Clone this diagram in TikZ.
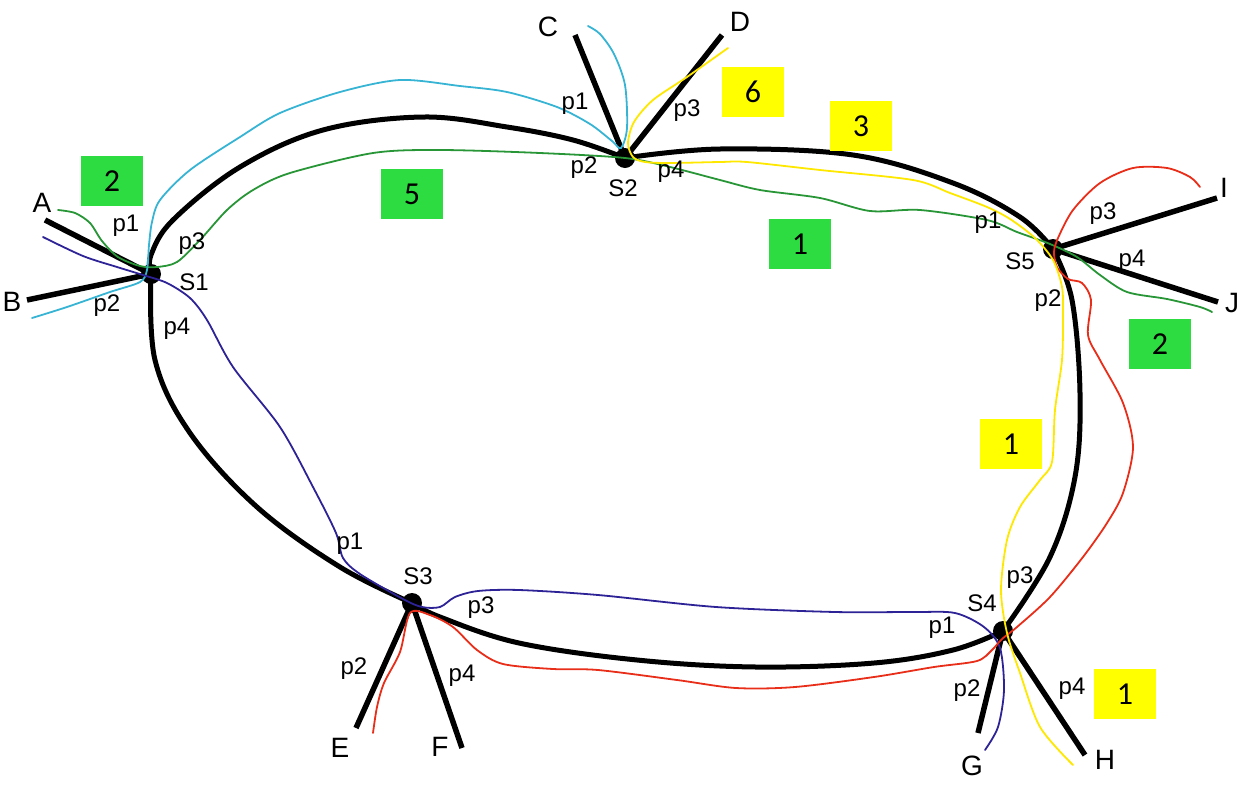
\documentclass[tikz,border=0pt]{standalone}
\usepackage{fontspec}
\setmainfont{Liberation Sans}
\newfontfamily\boxfont{Carlito}
\usepackage{tikz}
\usetikzlibrary{positioning}
\usepackage{xcolor}
\definecolor{flowgreen}{RGB}{40,150,55}
\definecolor{flowcyan}{RGB}{55,180,212}
\definecolor{flowblue}{RGB}{45,35,150}
\definecolor{flowred}{RGB}{232,45,25}
\definecolor{flowyellow}{RGB}{255,232,0}
\definecolor{boxgreen}{RGB}{45,220,65}
\definecolor{boxyellow}{RGB}{255,255,0}

\begin{document}
\begin{tikzpicture}[x=1pt, y=-1pt,
    ring/.style={line width=5pt, line cap=round},
    link/.style={line width=5.5pt},
    flow/.style={line width=1.8pt, line cap=round},
    sw/.style={circle, fill=black, minimum size=20pt, inner sep=0pt},
    port/.style={font=\fontsize{24}{26}\selectfont, inner sep=0pt},
    hostlbl/.style={font=\fontsize{28}{30}\selectfont, inner sep=0pt},
    gbox/.style={fill=boxgreen, minimum width=62pt, minimum height=50pt, font=\boxfont\fontsize{32}{34}\selectfont},
    ybox/.style={fill=boxyellow, minimum width=62pt, minimum height=50pt, font=\boxfont\fontsize{32}{34}\selectfont}
    ]

    \useasboundingbox (0,0) rectangle (1243,788);

    \node[sw] (S1) at (151,274) {};
    \node[sw] (S2) at (625,158) {};
    \node[sw] (S3) at (412,603) {};
    \node[sw] (S4) at (1003,631) {};
    \node[sw] (S5) at (1053,249) {};

    \coordinate (A) at (45,220);
    \coordinate (B) at (27,300);
    \coordinate (C) at (575,35);
    \coordinate (D) at (722,35);
    \coordinate (E) at (356,728);
    \coordinate (F) at (462,748);
    \coordinate (G) at (978,733);
    \coordinate (H) at (1085,755);
    \coordinate (I) at (1217,198);
    \coordinate (J) at (1218,302);

    \draw[ring] plot[smooth, tension=0.6] coordinates {(S1.center) (151,255) (173,220) (240,167) (323,130) (423,117) (507,127) (573,140) (S2.center)};
    \draw[ring] plot[smooth, tension=0.6] coordinates {(S2.center) (720,149) (853,155) (953,183) (1020,217) (S5.center)};
    \draw[ring] plot[smooth, tension=0.6] coordinates {(S5.center) (1072,300) (1080,393) (1075,477) (1050,557) (S4.center)};
    \draw[ring] plot[smooth, tension=0.6] coordinates {(S4.center) (953,650) (874,663) (756,667) (637,660) (519,643) (440,617) (S3.center)};
    \draw[ring] plot[smooth, tension=0.6] coordinates {(S3.center) (340,567) (257,507) (190,433) (155,360) (S1.center)};

    \draw[link] (S1.center) -- (A);
    \draw[link] (S1.center) -- (B);
    \draw[link] (S2.center) -- (C);
    \draw[link] (S2.center) -- (D);
    \draw[link] (S3.center) -- (E);
    \draw[link] (S3.center) -- (F);
    \draw[link] (S4.center) -- (G);
    \draw[link] (S4.center) -- (H);
    \draw[link] (S5.center) -- (I);
    \draw[link] (S5.center) -- (J);

    \draw[flow, flowgreen] plot[smooth, tension=0.5] coordinates {(58,210) (75,213) (90,223) (102,241) (118,257) (140,266) (157,267) (177,262) (200,240) (227,210) (253,190) (290,173) (373,153) (440,150) (540,153) (S2.center) (670,167) (720,180) (760,190) (820,198) (870,211) (920,210) (987,220) (1017,232) (1050,244) (1077,257) (1100,275) (1127,292) (1167,299) (1200,307) (1212,312)};

    \draw[flow, flowcyan] plot[smooth, tension=0.5] coordinates {(32,318) (67,307) (110,292) (140,282) (147,270) (149,245) (152,222) (160,200) (190,170) (240,137) (280,113) (340,92) (400,80) (460,86) (507,92) (557,107) (590,124) (612,141) (621,148) (627,128) (625,85) (614,54) (600,34) (588,26)};

    \draw[flow, flowblue] plot[smooth, tension=0.5] coordinates {(43,237) (83,256) (117,267) (143,275) (167,283) (190,298) (207,320) (233,367) (280,427) (313,487) (336,533) (343,558) (360,574) (403,599) (422,607) (440,607) (455,597) (478,591) (519,590) (598,595) (716,607) (835,612) (914,612) (955,613) (984,627) (1000,648) (1004,690) (998,727) (985,750)};

    \draw[flow, flowred] plot[smooth, tension=0.5] coordinates {(373,733) (377,707) (384,683) (400,652) (410,613) (430,615) (453,627) (477,650) (503,664) (553,669) (598,670) (677,680) (736,688) (795,687) (874,677) (934,667) (977,661) (992,650) (1002,639) (1017,627) (1050,597) (1083,557) (1107,523) (1123,493) (1133,447) (1123,403) (1100,360) (1088,335) (1091,300) (1082,283) (1068,279) (1057,267) (1054,252) (1058,238) (1073,210) (1100,183) (1133,168) (1167,168) (1190,177) (1200,187)};

    \draw[flow, flowyellow] plot[smooth, tension=0.5] coordinates {(728,48) (687,77) (653,100) (634,122) (628,143) (633,157) (645,162) (670,163) (720,162) (747,162) (820,170) (913,180) (950,193) (987,207) (1010,219) (1035,238) (1053,260) (1062,287) (1063,315) (1062,360) (1055,410) (1052,462) (1040,480) (1020,507) (1007,540) (1001,590) (1007,633) (1020,673) (1040,727) (1073,765)};

    \node[hostlbl] (labA) at (42,203) {A};
    \node[hostlbl] (labB) at (12,302) {B};
    \node[hostlbl] (labC) at (548,27) {C};
    \node[hostlbl] (labD) at (740,22) {D};
    \node[hostlbl] (labE) at (340,748) {E};
    \node[hostlbl] (labF) at (440,747) {F};
    \node[hostlbl] (labG) at (972,766) {G};
    \node[hostlbl] (labH) at (1105,760) {H};
    \node[hostlbl] (labI) at (1224,188) {I};
    \node[hostlbl] (labJ) at (1232,303) {J};

    \node[port] (nS1) at (194,282) {S1};
    \node[port] (s1p1) at (126,226) {p1};
    \node[port] (s1p2) at (107,306) {p2};
    \node[port] (s1p3) at (192,244) {p3};
    \node[port] (s1p4) at (177,329) {p4};

    \node[port] (nS2) at (623,188) {S2};
    \node[port] (s2p1) at (575,104) {p1};
    \node[port] (s2p2) at (584,168) {p2};
    \node[port] (s2p3) at (687,111) {p3};
    \node[port] (s2p4) at (671,172) {p4};

    \node[port] (nS3) at (418,576) {S3};
    \node[port] (s3p1) at (350,544) {p1};
    \node[port] (s3p2) at (354,669) {p2};
    \node[port] (s3p3) at (481,608) {p3};
    \node[port] (s3p4) at (462,676) {p4};

    \node[port] (nS4) at (982,603) {S4};
    \node[port] (s4p1) at (942,628) {p1};
    \node[port] (s4p2) at (967,691) {p2};
    \node[port] (s4p3) at (1020,578) {p3};
    \node[port] (s4p4) at (1072,689) {p4};

    \node[port] (nS5) at (1020,261) {S5};
    \node[port] (s5p1) at (988,223) {p1};
    \node[port] (s5p2) at (1048,301) {p2};
    \node[port] (s5p3) at (1103,214) {p3};
    \node[port] (s5p4) at (1132,261) {p4};

    \node[gbox] (gA) at (112,181) {2};
    \node[gbox] (gS1S2) at (412,194) {5};
    \node[gbox] (gS2S5) at (800,244) {1};
    \node[gbox] (gJ) at (1160,344) {2};

    \node[ybox] (yD) at (753,92) {6};
    \node[ybox] (yS2S5) at (861,126) {3};
    \node[ybox] (yS5S4) at (1011,444) {1};
    \node[ybox] (yH) at (1125,694) {1};

\end{tikzpicture}
\end{document}
